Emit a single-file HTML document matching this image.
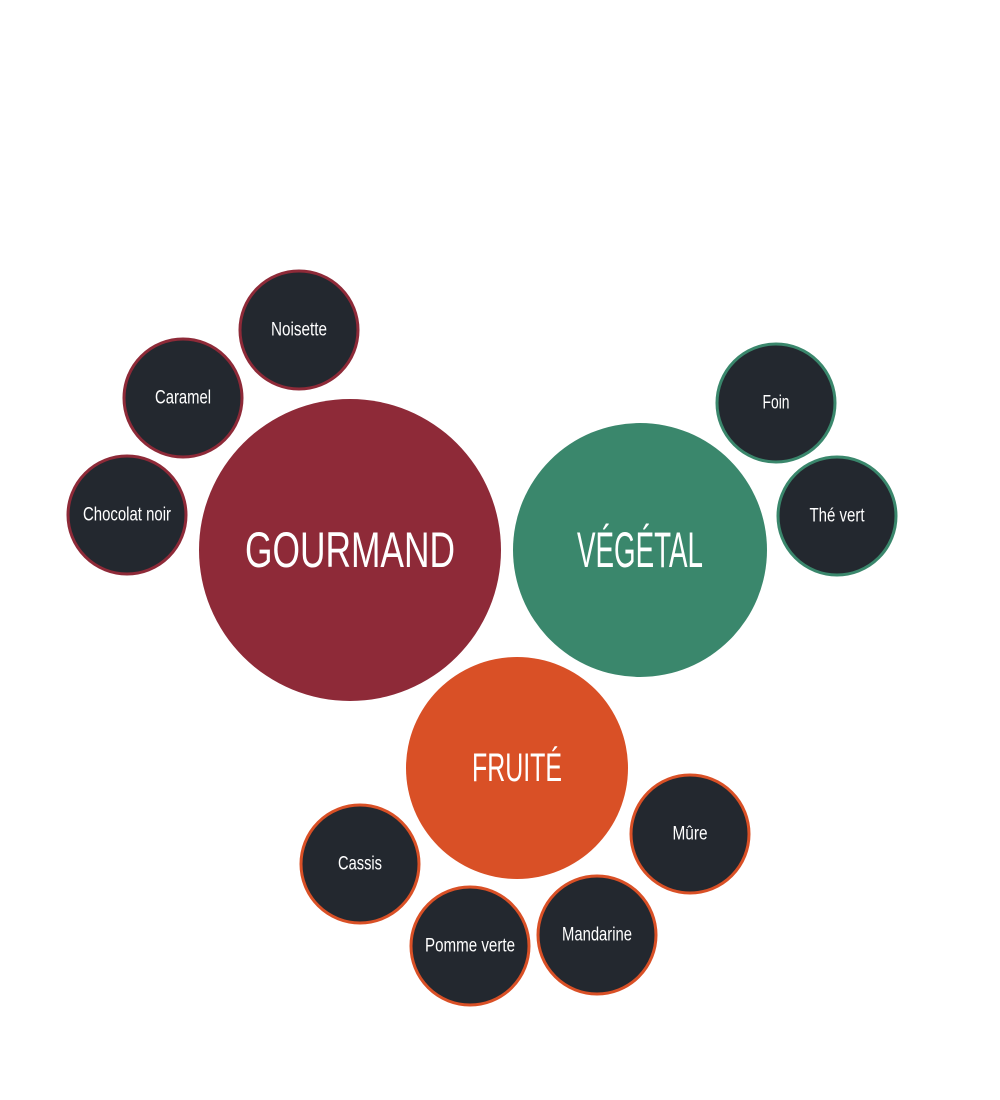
<!DOCTYPE html>
<html><head><meta charset="utf-8"><style>
html,body{margin:0;padding:0;background:#fff;}
svg{display:block;}
text{font-family:"Liberation Sans Narrow","Liberation Sans",sans-serif;fill:#fff;text-anchor:middle;dominant-baseline:central;}
.s{font-size:19px;}
.b{font-size:50px;}
</style></head><body>
<svg width="1000" height="1100" viewBox="0 0 1000 1100" xmlns="http://www.w3.org/2000/svg">
<g stroke-width="3" fill="#23282f">
<circle cx="299" cy="330" r="59" stroke="#8e2a38"/>
<circle cx="183" cy="398" r="59" stroke="#8e2a38"/>
<circle cx="127" cy="515" r="59" stroke="#8e2a38"/>
<circle cx="776" cy="403" r="59" stroke="#3a876c"/>
<circle cx="837" cy="516" r="59" stroke="#3a876c"/>
<circle cx="360" cy="864" r="59" stroke="#d95026"/>
<circle cx="470" cy="946" r="59" stroke="#d95026"/>
<circle cx="597" cy="935" r="59" stroke="#d95026"/>
<circle cx="690" cy="834" r="59" stroke="#d95026"/>
</g>
<circle cx="350" cy="550" r="151" fill="#8e2a38"/>
<circle cx="640" cy="550" r="127" fill="#3a876c"/>
<circle cx="517" cy="768" r="111" fill="#d95026"/>
<text class="b" x="350" y="550" textLength="210" lengthAdjust="spacingAndGlyphs">GOURMAND</text>
<text class="b" x="640" y="550" textLength="126" lengthAdjust="spacingAndGlyphs">VÉGÉTAL</text>
<text class="b" x="517" y="768" font-size="40" textLength="90" lengthAdjust="spacingAndGlyphs" style="font-size:40px">FRUITÉ</text>
<text class="s" x="299" y="330" textLength="56" lengthAdjust="spacingAndGlyphs">Noisette</text>
<text class="s" x="183" y="398" textLength="56" lengthAdjust="spacingAndGlyphs">Caramel</text>
<text class="s" x="127" y="515" textLength="88" lengthAdjust="spacingAndGlyphs">Chocolat noir</text>
<text class="s" x="776" y="403" textLength="27" lengthAdjust="spacingAndGlyphs">Foin</text>
<text class="s" x="837" y="516" textLength="55" lengthAdjust="spacingAndGlyphs">Thé vert</text>
<text class="s" x="360" y="864" textLength="44" lengthAdjust="spacingAndGlyphs">Cassis</text>
<text class="s" x="470" y="946" textLength="90" lengthAdjust="spacingAndGlyphs">Pomme verte</text>
<text class="s" x="597" y="935" textLength="70" lengthAdjust="spacingAndGlyphs">Mandarine</text>
<text class="s" x="690" y="834" textLength="35" lengthAdjust="spacingAndGlyphs">Mûre</text>
</svg>
</body></html>
